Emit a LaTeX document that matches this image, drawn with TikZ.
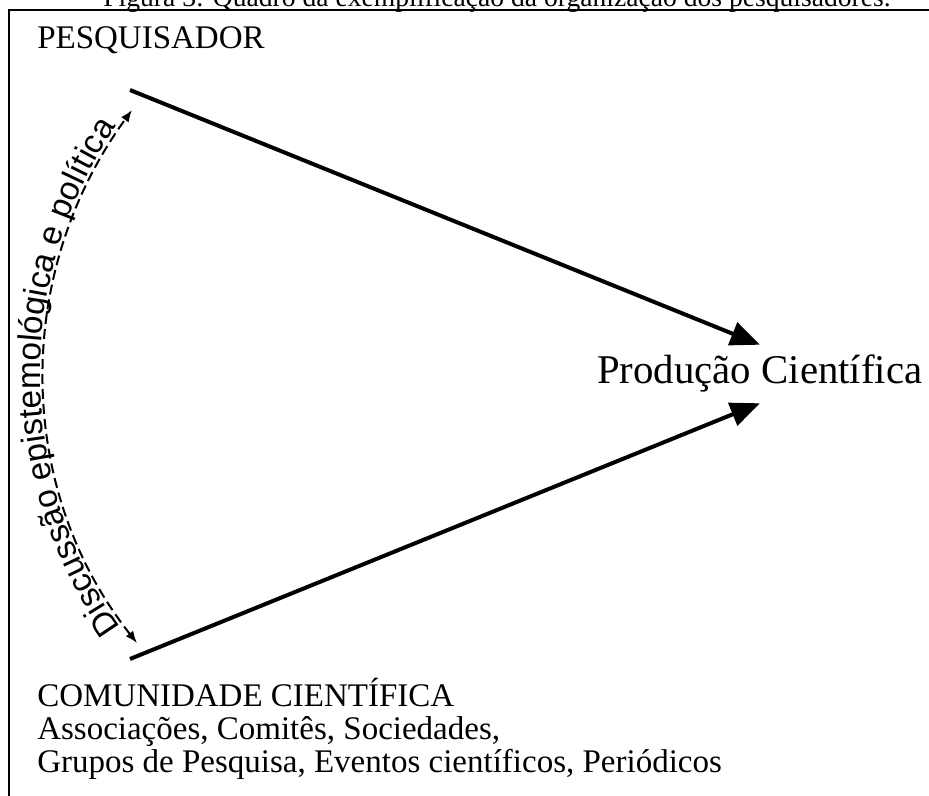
\documentclass[tikz,border=0pt]{standalone}
\usepackage{fontspec}
\setmainfont{Liberation Serif}
\newfontfamily\discsans{Liberation Sans}
\usetikzlibrary{arrows.meta,decorations.text}

\begin{document}
\begin{tikzpicture}[x=0.75pt, y=-0.75pt,
    label text/.style={font=\fontsize{24.75pt}{25pt}\selectfont, inner sep=0, anchor=base west},
    big arrow/.style={line width=3pt, -{Triangle[length=22pt,width=18pt]}},
    disc arrow/.style={line width=1.5pt, dash pattern=on 7.5pt off 3.75pt,
        {Latex[length=9pt,width=7pt]}-{Latex[length=9pt,width=7pt]}}]
    \useasboundingbox (0,0) rectangle (929,796);
    \clip (0,0) rectangle (929,796);
    % legenda e moldura
    \node[font=\fontsize{20.7pt}{22pt}\selectfont, anchor=base, inner sep=0] (caption) at (497,7)
        {Figura 3: Quadro da exemplificação da organização dos pesquisadores.};
    \draw[line width=2pt] (9,810) |- (935,10);
    % textos
    \node[label text] (pesq) at (37,48) {PESQUISADOR};
    \node[label text] (com) at (37,706) {\begin{tabular}[t]{@{}l@{}}
        COMUNIDADE CIENTÍFICA\\
        Associações, Comitês, Sociedades,\\
        Grupos de Pesquisa, Eventos científicos, Periódicos
        \end{tabular}};
    \node[font=\fontsize{30.6pt}{31pt}\selectfont, anchor=base west, inner sep=0,
        text height=28.5pt, text depth=15pt] (prod) at (597,383) {Produção Científica};
    % setas
    \coordinate (pesqpt) at (130,90);
    \coordinate (compt) at (130,659);
    \draw[big arrow] (pesqpt) -- (prod.north);
    \draw[big arrow] (compt) -- (prod.south);
    % discussao
    \coordinate (disctop) at (132,110);
    \coordinate (discbot) at (137,643);
    \draw[disc arrow] (discbot) .. controls (16,490) and (12,275) .. (disctop);
    \path[decorate, decoration={text along path, text align=center, raise=3pt,
        text={|\discsans\fontsize{25pt}{25pt}\selectfont|Discussão epistemológica e política}}]
        (discbot) .. controls (16,490) and (12,275) .. (disctop);
\end{tikzpicture}
\end{document}
